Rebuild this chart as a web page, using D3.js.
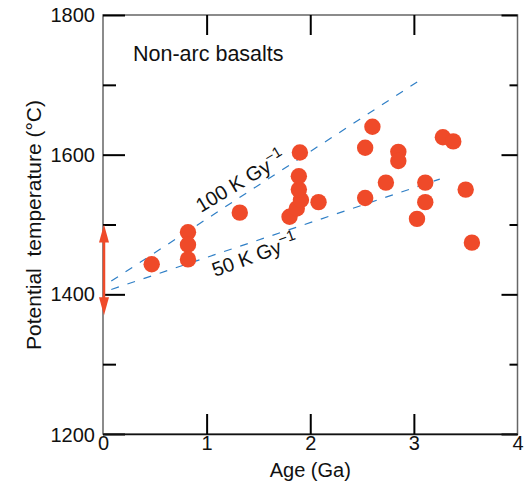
<!DOCTYPE html>
<html>
<head>
<meta charset="utf-8">
<script src="https://d3js.org/d3.v7.min.js"></script>
<style>
  body { margin: 0; background: #fff; }
  svg { font-family: "Liberation Sans", Arial, Helvetica, sans-serif; }
</style>
</head>
<body>
<div id="chart"></div>
<script>
// non-arc basalt potential temperatures vs age

// sample ages (Ga) and potential temperatures (deg C)
var ages  = [0.47, 0.82, 0.82, 0.82, 1.32, 1.80, 1.87, 1.91, 1.89, 1.89, 1.90, 2.08,
             2.53, 2.53, 2.60, 2.73, 2.85, 2.85, 3.03, 3.11, 3.11, 3.28, 3.38, 3.50, 3.56];
var temps = [1443, 1489, 1471, 1450, 1517, 1511, 1523, 1535, 1550, 1569, 1603, 1532,
             1538, 1610, 1640, 1560, 1604, 1591, 1508, 1560, 1532, 1625, 1619, 1550, 1474];

// cooling trends (age, temperature) end points
var trend100 = [[0.08, 1419], [3.04, 1705]];
var trend50  = [[0.08, 1407], [3.25, 1565]];

// present-day range shown by the double arrow
var arrowRange = [1370, 1500];

var xTicks = [0, 1, 2, 3, 4];
var yTicks = [1200, 1400, 1600, 1800];
var yMinor = [1300, 1500, 1700];

var width = 528, height = 493;
var margin = { top: 15, right: 10.5, bottom: 59, left: 103 };

var svg = d3.select("#chart").append("svg")
    .attr("width", width)
    .attr("height", height);

var x = d3.scaleLinear().domain([0, 4]).range([margin.left, width - margin.right]);
var y = d3.scaleLinear().domain([1200, 1800]).range([height - margin.bottom, margin.top]);

var red = "#ef4a29";
var blue = "#2f7fc6";

// frame
svg.append("rect")
    .attr("x", x(0)).attr("y", y(1800))
    .attr("width", x(4) - x(0)).attr("height", y(1200) - y(1800))
    .attr("fill", "none")
    .attr("stroke", "#666")
    .attr("stroke-width", 1.5);

// axes with inward ticks
var yAxis = d3.axisLeft(y).tickValues(yTicks).tickFormat(d3.format("d"))
    .tickSizeInner(-22).tickSizeOuter(0).tickPadding(8);
var gy = svg.append("g").attr("transform", "translate(" + x(0) + ",0)").call(yAxis);
gy.select(".domain").remove();
gy.selectAll(".tick").filter(function(d) { return d === 1200; }).select("text").attr("dy", "0.38em");

var gyMinor = svg.append("g").attr("transform", "translate(" + x(0) + ",0)")
    .call(d3.axisLeft(y).tickValues(yMinor).tickSizeInner(-13).tickSizeOuter(0).tickFormat(""));
gyMinor.select(".domain").remove();

var gyR = svg.append("g").attr("transform", "translate(" + x(4) + ",0)")
    .call(d3.axisRight(y).tickValues(yTicks).tickSizeInner(-16).tickSizeOuter(0).tickFormat(""));
gyR.select(".domain").remove();
var gyRMinor = svg.append("g").attr("transform", "translate(" + x(4) + ",0)")
    .call(d3.axisRight(y).tickValues(yMinor).tickSizeInner(-8).tickSizeOuter(0).tickFormat(""));
gyRMinor.select(".domain").remove();

var xAxis = d3.axisBottom(x).tickValues(xTicks).tickFormat(d3.format("d"))
    .tickSizeInner(-20).tickSizeOuter(0).tickPadding(2);
var gx = svg.append("g").attr("transform", "translate(0," + y(1200) + ")").call(xAxis);
gx.select(".domain").attr("stroke", "#111").attr("stroke-width", 1.5);
gx.selectAll(".tick line").filter(function(d) { return d === 0 || d === 4; }).remove();

var gxTop = svg.append("g").attr("transform", "translate(0," + y(1800) + ")")
    .call(d3.axisTop(x).tickValues([1, 2, 3]).tickSizeInner(-20).tickSizeOuter(0).tickFormat(""));
gxTop.select(".domain").remove();

svg.selectAll(".tick line").attr("stroke", "#000").attr("stroke-width", 2);
svg.selectAll(".tick text").attr("font-size", 20).attr("fill", "#111")
    .attr("font-family", "Liberation Sans, Arial, sans-serif");

// axis titles
svg.append("text")
    .attr("x", (x(0) + x(4)) / 2).attr("y", 477)
    .attr("text-anchor", "middle")
    .attr("font-size", 20).attr("fill", "#111")
    .text("Age (Ga)");

svg.append("text")
    .attr("transform", "translate(41," + 225 + ") rotate(-90)")
    .attr("text-anchor", "middle")
    .attr("font-size", 21).attr("fill", "#111")
    .style("white-space", "pre")
    .text("Potential  temperature (\u00B0C)");

svg.append("text")
    .attr("x", 133).attr("y", 61)
    .attr("font-size", 21.5).attr("fill", "#111")
    .text("Non-arc basalts");

// trend lines
var line = d3.line().x(function(d) { return x(d[0]); }).y(function(d) { return y(d[1]); });
[trend100, trend50].forEach(function(t) {
    svg.append("path")
        .attr("d", line(t))
        .attr("fill", "none")
        .attr("stroke", blue)
        .attr("stroke-width", 1.2)
        .attr("stroke-dasharray", "8,9");
});

function trendLabel(px, py, angle, main) {
    var t = svg.append("text")
        .attr("transform", "translate(" + px + "," + py + ") rotate(" + (-angle) + ")")
        .attr("font-size", 20).attr("fill", "#111");
    t.append("tspan").text(main);
    t.append("tspan").attr("dy", -8).attr("font-size", 15).text("\u22121");
}
trendLabel(201, 213, 31, "100 K Gy");
trendLabel(215, 277, 20, "50 K Gy");

// double arrow
var ax = x(0) + 1;
svg.append("line")
    .attr("x1", ax).attr("x2", ax)
    .attr("y1", y(arrowRange[0]) - 12).attr("y2", y(arrowRange[1]) + 12)
    .attr("stroke", red).attr("stroke-width", 2.5);
svg.append("path")
    .attr("d", "M" + ax + "," + y(arrowRange[1]) + "l-5,18l10,0z")
    .attr("fill", red);
svg.append("path")
    .attr("d", "M" + ax + "," + y(arrowRange[0]) + "l-5,-18l10,0z")
    .attr("fill", red);

// samples
svg.append("g").selectAll("circle")
    .data(ages)
    .join("circle")
    .attr("cx", function(d) { return x(d); })
    .attr("cy", function(d, i) { return y(temps[i]); })
    .attr("r", 8.2)
    .attr("fill", red);
</script>
</body>
</html>
